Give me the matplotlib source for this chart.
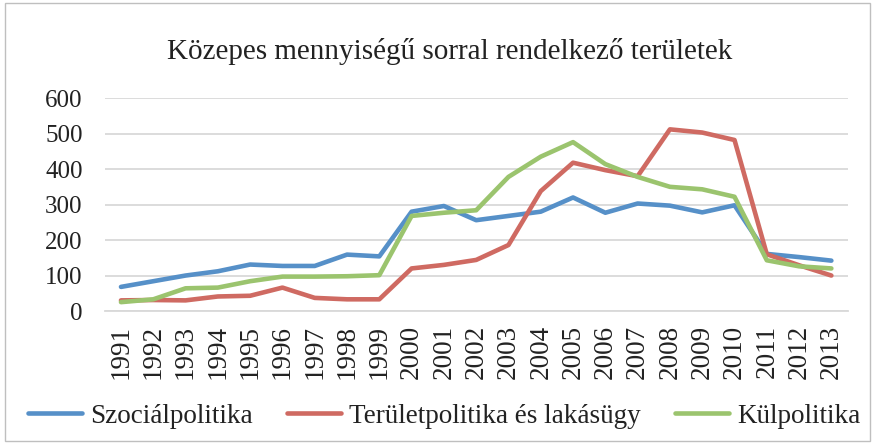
import numpy as np
import matplotlib.pyplot as plt
from matplotlib.patches import Rectangle

plt.rcParams['font.family'] = ['Liberation Serif', 'DejaVu Serif']

years = [str(y) for y in range(1991, 2014)]
szocialpolitika = [68, 84, 100, 112, 131, 127, 127, 159, 154, 280, 296, 256, 268,
                   280, 320, 277, 303, 297, 278, 298, 161, 152, 142]
teruletpolitika = [30, 31, 30, 41, 43, 66, 37, 33, 33, 120, 130, 144, 186,
                   338, 418, 397, 380, 512, 503, 482, 160, 129, 100]
kulpolitika = [25, 33, 64, 66, 84, 97, 97, 98, 101, 268, 277, 284, 378,
               435, 476, 414, 378, 350, 343, 322, 143, 126, 120]

series = [
    ("Szociálpolitika", szocialpolitika, "#5690C8"),
    ("Területpolitika és lakásügy", teruletpolitika, "#CF6A62"),
    ("Külpolitika", kulpolitika, "#9BC46E"),
]

fig = plt.figure(figsize=(8.81, 4.44), dpi=100)
ax = fig.add_axes([0.119, 0.2995, 0.843, 0.4795])

x = np.arange(len(years))
for name, vals, color in series:
    ax.plot(x, vals, color=color, linewidth=3.3, label=name,
            solid_capstyle='round', solid_joinstyle='round')

ax.set_xlim(-0.5, len(years) - 0.5)
ax.set_ylim(0, 600)
ax.set_yticks(range(0, 601, 100))
ax.set_xticks(x)
ax.set_xticklabels(years, rotation=90)
ax.tick_params(axis='both', length=0, colors='#222222')
ax.tick_params(axis='y', pad=16, labelsize=18)
ax.tick_params(axis='x', pad=10, labelsize=19.5)
ax.grid(axis='y', color='#d9d9d9', linewidth=1.3)
ax.set_axisbelow(True)
for s in ['top', 'right', 'left']:
    ax.spines[s].set_visible(False)
ax.spines['bottom'].set_color('#d9d9d9')
ax.spines['bottom'].set_linewidth(1.3)

fig.text(0.51, 0.885, "Közepes mennyiségű sorral rendelkező területek",
         ha='center', va='center', fontsize=21, color='#222222')

fig.legend(loc='center', bbox_to_anchor=(0.504, 0.062), ncol=3, frameon=False,
           prop={'family': ['Liberation Serif'], 'size': 19.5},
           handlelength=2.0, columnspacing=1.25, handletextpad=0.3,
           labelcolor='#222222')

fig.patches.append(Rectangle((0.006, 0.007), 0.982, 0.986, transform=fig.transFigure,
                             fill=False, edgecolor='#bfbfbf', linewidth=1))

fig.savefig("out.png", dpi=100)
